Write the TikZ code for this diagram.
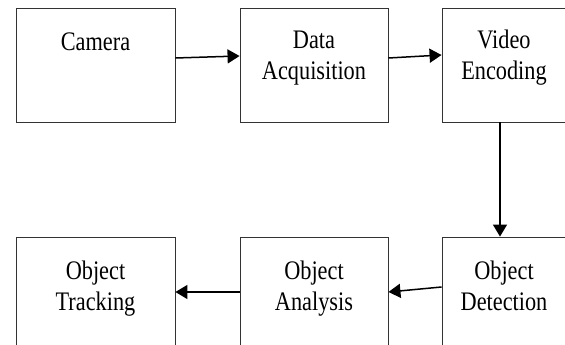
\documentclass[tikz,border=0pt]{standalone}
\usepackage{fontspec}
\setmainfont{Liberation Serif}
\usetikzlibrary{arrows.meta}

\tikzset{
  block/.style={draw=black!80, line width=0.9pt, minimum height=114pt, inner sep=0pt},
  lbl/.style={anchor=north, inner sep=0pt, align=center, yscale=1.2, transform shape,
    font=\fontsize{22.3}{26.5}\selectfont},
  flow/.style={-{Triangle[length=12pt,width=14pt]}, line width=1.5pt, black}
}

\begin{document}
\begin{tikzpicture}[x=1pt,y=-1pt]
    \useasboundingbox (0,0) rectangle (565,345);
    \clip (0,0) rectangle (565,345);

    % Top row
    \node[block, minimum width=159pt] (cam) at (95.5,65) {};
    \node[block, minimum width=148pt] (acq) at (314,65) {};
    \node[block, minimum width=124pt] (enc) at (504,65) {};

    % Bottom row
    \node[block, minimum width=159pt] (trk) at (95.5,294) {};
    \node[block, minimum width=148pt] (ana) at (314,294) {};
    \node[block, minimum width=124pt] (det) at (504,294) {};

    % Labels
    \coordinate (camt) at ([yshift=-20pt]cam.north);
    \coordinate (acqt) at ([yshift=-18pt]acq.north);
    \coordinate (enct) at ([yshift=-18pt]enc.north);
    \coordinate (trkt) at ([yshift=-20pt]trk.north);
    \coordinate (anat) at ([yshift=-20pt]ana.north);
    \coordinate (dett) at ([yshift=-20pt]det.north);
    \node[lbl] (camlbl) at (camt) {\strut Camera};
    \node[lbl] (acqlbl) at (acqt) {\strut Data\\\strut Acquisition};
    \node[lbl] (enclbl) at (enct) {\strut Video\\\strut Encoding};
    \node[lbl] (trklbl) at (trkt) {\strut Object\\\strut Tracking};
    \node[lbl] (analbl) at (anat) {\strut Object\\\strut Analysis};
    \node[lbl] (detlbl) at (dett) {\strut Object\\\strut Detection};

    % Arrows
    \draw[flow] ([yshift=7pt]cam.east) -- ([yshift=9pt]acq.west);
    \draw[flow] ([yshift=7pt]acq.east) -- ([yshift=10pt]enc.west);
    \draw[flow] ([xshift=-4pt]enc.south) -- ([xshift=-4pt]det.north);
    \draw[flow] ([yshift=7pt]det.west) -- ([yshift=2pt]ana.east);
    \draw[flow] ([yshift=2pt]ana.west) -- ([yshift=2pt]trk.east);
  \end{tikzpicture}
\end{document}
